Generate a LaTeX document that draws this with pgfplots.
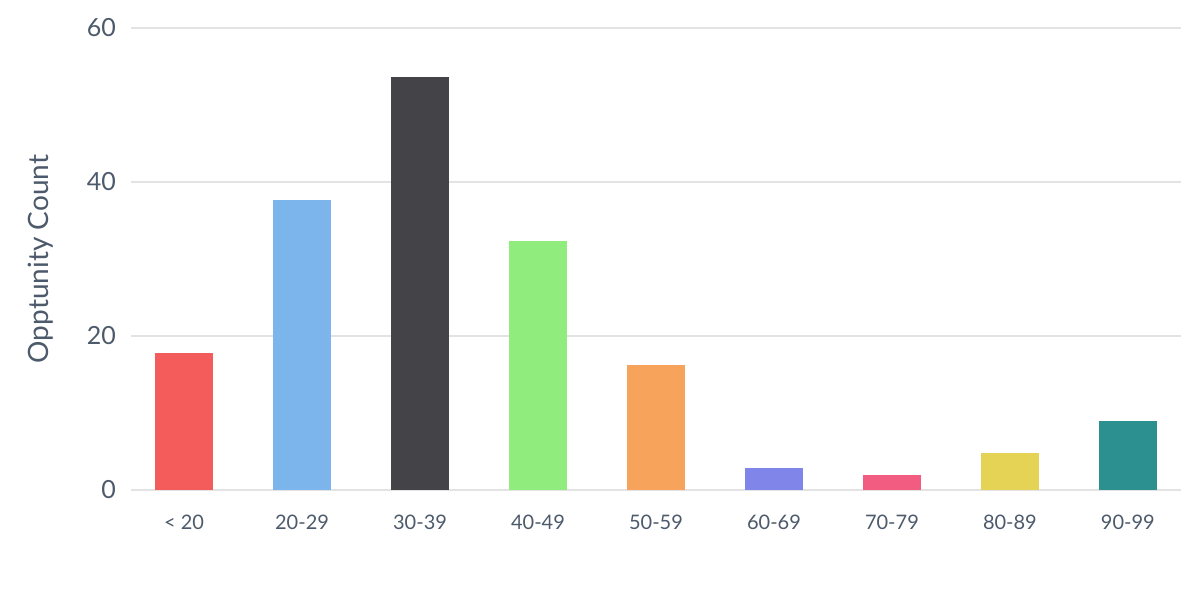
\documentclass[border=0pt]{standalone}
\usepackage{pgfplots}
\pgfplotsset{compat=1.18}
\usepackage{fontspec}
\setmainfont{Lato}
\definecolor{txt}{HTML}{4D5A6B}
\definecolor{gridc}{HTML}{E3E3E3}
\definecolor{c1}{HTML}{F45B5B}
\definecolor{c2}{HTML}{7CB5EC}
\definecolor{c3}{HTML}{434348}
\definecolor{c4}{HTML}{90ED7D}
\definecolor{c5}{HTML}{F7A35C}
\definecolor{c6}{HTML}{8085E9}
\definecolor{c7}{HTML}{F15C80}
\definecolor{c8}{HTML}{E4D354}
\definecolor{c9}{HTML}{2B908F}
\begin{document}
\begin{tikzpicture}
\path[use as bounding box] (-65.5pt,-55pt) rectangle (534.5pt,245pt);
\begin{axis}[
  scale only axis,
  width=525pt, height=231pt,
  xmin=-0.45, xmax=8.45,
  ymin=0, ymax=60,
  ytick={0,20,40,60},
  xtick={0,...,8},
  xticklabels={< 20,20-29,30-39,40-49,50-59,60-69,70-79,80-89,90-99},
  axis line style={draw=none},
  xmajorgrids=false,
  ymajorgrids=true,
  major grid style={draw=gridc, line width=0.6pt},
  major tick length=0pt,
  xticklabel style={font=\fontsize{10}{12}\selectfont, text=txt, yshift=-9pt},
  yticklabel style={font=\fontsize{12.5}{14}\selectfont, text=txt, xshift=-4pt},
  /pgf/number format/assume math mode=true,
  ylabel={Opptunity Count},
  every axis y label/.style={at={(axis description cs:0,0.5)}, rotate=90, anchor=center, yshift=45pt, font=\fontsize{14}{16}\selectfont, text=txt},
  ybar, bar width=29pt, bar shift=0pt,
  clip=false,
]
\addplot[draw=none, fill=c1] coordinates {(0,17.8)};
\addplot[draw=none, fill=c2] coordinates {(1,37.7)};
\addplot[draw=none, fill=c3] coordinates {(2,53.6)};
\addplot[draw=none, fill=c4] coordinates {(3,32.3)};
\addplot[draw=none, fill=c5] coordinates {(4,16.2)};
\addplot[draw=none, fill=c6] coordinates {(5,2.9)};
\addplot[draw=none, fill=c7] coordinates {(6,1.95)};
\addplot[draw=none, fill=c8] coordinates {(7,4.8)};
\addplot[draw=none, fill=c9] coordinates {(8,9.0)};
\end{axis}
\end{tikzpicture}
\end{document}
